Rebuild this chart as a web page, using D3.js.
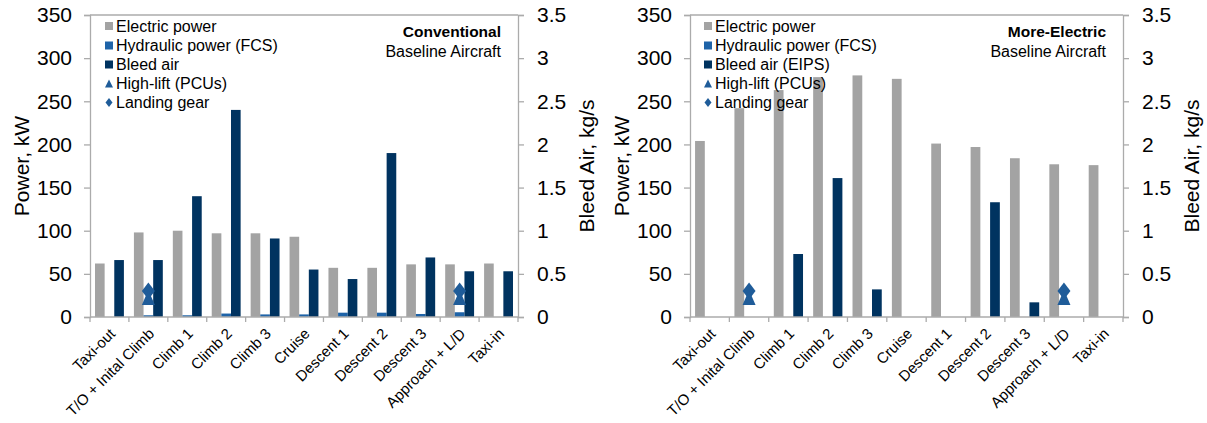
<!DOCTYPE html>
<html>
<head>
<meta charset="utf-8">
<script src="https://cdn.jsdelivr.net/npm/d3@7"></script>
<style>
  html, body { margin: 0; padding: 0; background: #fff; }
  svg { display: block; font-family: "Liberation Sans", Arial, sans-serif; }
</style>
</head>
<body>
<svg id="chart" width="1207" height="423"></svg>
<script>
// ---------- data ----------
const categories = ["Taxi-out", "T/O + Inital Climb", "Climb 1", "Climb 2", "Climb 3", "Cruise",
  "Descent 1", "Descent 2", "Descent 3", "Approach + L/D", "Taxi-in"];

// Conventional baseline aircraft
const convElectric  = [62, 98, 100, 97, 97, 93, 57, 57, 61, 61, 62];          // kW
const convHydraulic = [0, 2, 2, 4, 3, 3, 5, 5, 3.5, 5.5, 0];                    // kW
const convBleed     = [0.66, 0.66, 1.40, 2.40, 0.91, 0.55, 0.44, 1.90, 0.69, 0.53, 0.53]; // kg/s
const convHighLift  = [null, 22, null, null, null, null, null, null, null, 22, null]; // kW
const convLanding   = [null, 30, null, null, null, null, null, null, null, 30, null]; // kW

// More-electric baseline aircraft
const meElectric  = [204, 242, 263, 278, 280, 276, 201, 197, 184, 177, 176];
const meHydraulic = [0, 0, 0, 0, 0, 0, 0, 0, 0, 0, 0];
const meBleed     = [0, 0, 0.73, 1.61, 0.32, 0, 0, 1.33, 0.17, 0, 0];
const meHighLift  = [null, 22, null, null, null, null, null, null, null, 22, null];
const meLanding   = [null, 30, null, null, null, null, null, null, null, 30, null];

const powerTicks = [0, 50, 100, 150, 200, 250, 300, 350];
const bleedTicks = [0, 0.5, 1, 1.5, 2, 2.5, 3, 3.5];

const legendConv = ["Electric power", "Hydraulic power (FCS)", "Bleed air", "High-lift (PCUs)", "Landing gear"];
const legendME   = ["Electric power", "Hydraulic power (FCS)", "Bleed air (EIPS)", "High-lift (PCUs)", "Landing gear"];

// ---------- styles ----------
const C_GRAY = "#A3A3A3", C_HYD = "#1E63A8", C_NAVY = "#003360", C_MARK = "#1F5C99", C_AXIS = "#ABABAB";

const svg = d3.select("#chart");

function drawChart(o) {
  const g = svg.append("g");
  const x = d3.scaleBand().domain(categories).range([o.x0, o.x1]).paddingInner(0).paddingOuter(0);
  const xs = d3.scaleBand().domain(["e", "h", "b"]).range([0, x.bandwidth()]).paddingInner(0).paddingOuter(0.52);
  const y = d3.scaleLinear().domain([0, 350]).range([317, 15]);
  const y2 = d3.scaleLinear().domain([0, 3.5]).range([317, 15]);

  // plot top border
  g.append("line").attr("x1", o.x0).attr("x2", o.x1).attr("y1", 15).attr("y2", 15)
    .attr("stroke", C_AXIS).attr("stroke-width", 1.3);

  // bars
  const series = [
    { key: "e", vals: o.electric, scale: y, color: C_GRAY },
    { key: "h", vals: o.hydraulic, scale: y, color: C_HYD },
    { key: "b", vals: o.bleed, scale: y2, color: C_NAVY }
  ];
  series.forEach(s => {
    g.append("g").selectAll("rect").data(categories).join("rect")
      .attr("x", (d) => x(d) + xs(s.key))
      .attr("width", xs.bandwidth())
      .attr("y", (d, i) => s.scale(s.vals[i]))
      .attr("height", (d, i) => s.scale(0) - s.scale(s.vals[i]))
      .attr("fill", s.color);
  });

  // markers
  const mx = (d) => x(d) + xs("h") + xs.bandwidth() / 2;
  g.append("g").selectAll("path").data(categories.filter((d, i) => o.landing[i] != null)).join("path")
    .attr("d", d => {
      const v = o.landing[categories.indexOf(d)], cx = mx(d), cy = y(v);
      return `M${cx},${cy - 8.5}L${cx + 6.5},${cy}L${cx},${cy + 8.5}L${cx - 6.5},${cy}Z`;
    }).attr("fill", C_MARK);
  g.append("g").selectAll("path").data(categories.filter((d, i) => o.highLift[i] != null)).join("path")
    .attr("d", d => {
      const v = o.highLift[categories.indexOf(d)], cx = mx(d), cy = y(v);
      return `M${cx},${cy - 8}L${cx + 6.5},${cy + 7}L${cx - 6.5},${cy + 7}Z`;
    }).attr("fill", C_MARK);

  // left axis
  const ga = g.append("g").attr("transform", `translate(${o.x0},0)`)
    .call(d3.axisLeft(y).tickValues(powerTicks).tickSize(6).tickPadding(12).tickFormat(d3.format("d")));
  // right axis
  const gb = g.append("g").attr("transform", `translate(${o.x1},0)`)
    .call(d3.axisRight(y2).tickValues(bleedTicks).tickSize(6).tickPadding(13).tickFormat(d => String(d)));
  // bottom axis
  const xTicks = categories.map(d => x(d)).concat([o.x1]);
  const gx = g.append("g");
  gx.append("line").attr("x1", o.x0).attr("x2", o.x1).attr("y1", 317).attr("y2", 317)
    .attr("stroke", C_AXIS).attr("stroke-width", 1.3);
  gx.selectAll("line.t").data(xTicks).join("line").attr("class", "t")
    .attr("x1", d => d).attr("x2", d => d).attr("y1", 317).attr("y2", 322)
    .attr("stroke", C_AXIS).attr("stroke-width", 1.3);
  gx.selectAll("text").data(categories).join("text")
    .attr("transform", d => `translate(${x(d) + x.bandwidth() / 2 + 3},${331}) rotate(-45)`)
    .attr("text-anchor", "end").attr("dy", "0.35em")
    .attr("font-size", 15).attr("fill", "#000").text(d => d);

  [ga, gb].forEach(a => {
    a.select(".domain").attr("stroke", C_AXIS).attr("stroke-width", 1.3);
    a.selectAll(".tick line").attr("stroke", C_AXIS).attr("stroke-width", 1.3);
    a.selectAll(".tick text").attr("font-size", 21).attr("fill", "#000")
      .attr("font-family", "Liberation Sans, Arial, sans-serif");
  });

  // axis titles
  g.append("text").attr("transform", `translate(${o.x0 - 68},166) rotate(-90)`)
    .attr("text-anchor", "middle").attr("dy", "0.35em").attr("font-size", 21).text("Power, kW");
  g.append("text").attr("transform", `translate(${o.x1 + 69},166) rotate(-90)`)
    .attr("text-anchor", "middle").attr("dy", "0.35em").attr("font-size", 21).text("Bleed Air, kg/s");

  // legend (no background, drawn on top)
  const lg = g.append("g");
  const rowY = [26, 45.5, 64.5, 83.5, 102.5];
  o.legend.forEach((t, i) => {
    const sx = o.x0 + o.legSq, cy = rowY[i];
    if (i < 3) {
      lg.append("rect").attr("x", sx).attr("y", cy - 4).attr("width", 8).attr("height", 8)
        .attr("fill", [C_GRAY, C_HYD, C_NAVY][i]);
    } else if (i === 3) {
      lg.append("path").attr("d", `M${sx + 4},${cy - 4}L${sx + 8},${cy + 4}L${sx},${cy + 4}Z`).attr("fill", C_MARK);
    } else {
      lg.append("path").attr("d", `M${sx + 4},${cy - 4.5}L${sx + 7.5},${cy}L${sx + 4},${cy + 4.5}L${sx + 0.5},${cy}Z`).attr("fill", C_MARK);
    }
    lg.append("text").attr("x", sx + 11).attr("y", cy).attr("dy", "0.35em")
      .attr("font-size", 16).attr("fill", "#000").text(t);
  });

  // title
  g.append("text").attr("x", o.x1 - 17).attr("y", 32).attr("dy", "0.35em").attr("text-anchor", "end")
    .attr("font-size", 15.5).attr("font-weight", "bold").text(o.title);
  g.append("text").attr("x", o.x1 - 17).attr("y", 51).attr("dy", "0.35em").attr("text-anchor", "end")
    .attr("font-size", 16).text("Baseline Aircraft");
}

drawChart({ x0: 90, x1: 518, electric: convElectric, hydraulic: convHydraulic, bleed: convBleed,
  highLift: convHighLift, landing: convLanding, legend: legendConv, title: "Conventional", legSq: 15 });
drawChart({ x0: 690, x1: 1123, electric: meElectric, hydraulic: meHydraulic, bleed: meBleed,
  highLift: meHighLift, landing: meLanding, legend: legendME, title: "More-Electric", legSq: 14 });
</script>
</body>
</html>
